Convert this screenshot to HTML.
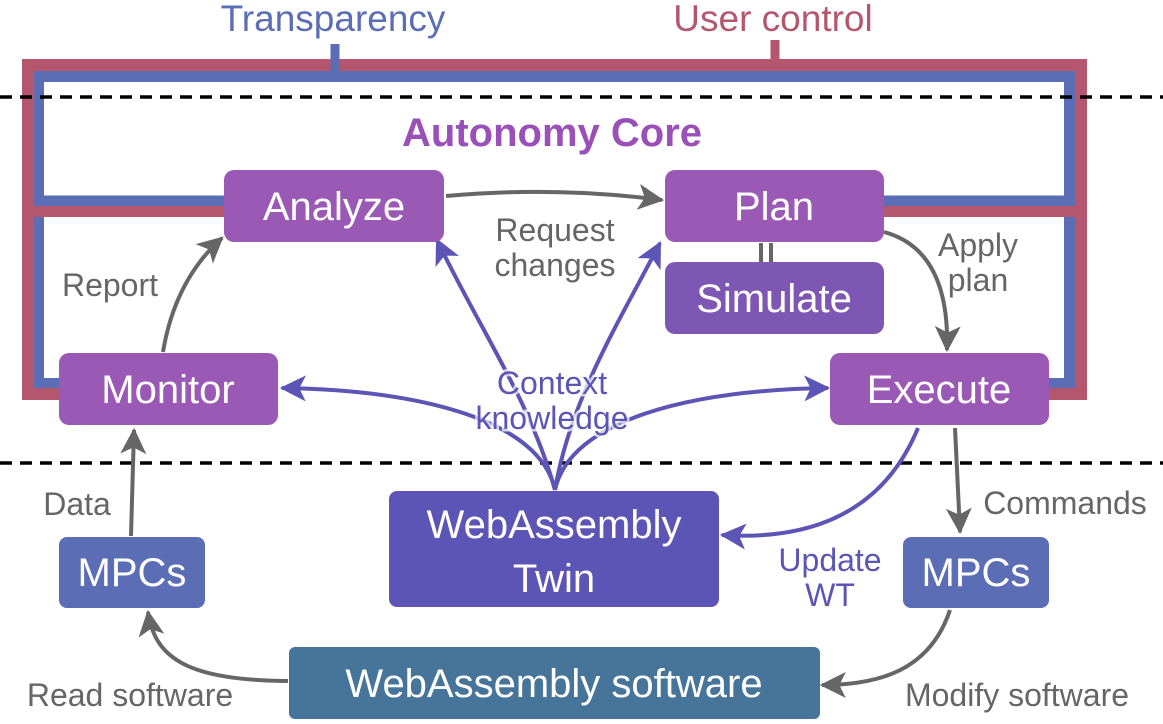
<!DOCTYPE html>
<html><head><meta charset="utf-8"><style>
html,body{margin:0;padding:0;background:#fff;}
svg{display:block;font-family:"Liberation Sans",sans-serif;}
</style></head><body>
<svg width="1163" height="724" viewBox="0 0 1163 724" xmlns="http://www.w3.org/2000/svg">
<defs>
<marker id="g" viewBox="0 0 12 12" refX="11" refY="6" markerWidth="26" markerHeight="26" orient="auto" markerUnits="userSpaceOnUse"><path d="M0,0 L12,6 L0,12 L3,6 z" fill="#666"/></marker>
<marker id="p" viewBox="0 0 12 12" refX="11" refY="6" markerWidth="26" markerHeight="26" orient="auto" markerUnits="userSpaceOnUse"><path d="M0,0 L12,6 L0,12 L3,6 z" fill="#5c55b5"/></marker>
</defs>
<!-- frames -->
<g fill="none" stroke-linejoin="miter">
<!-- blue -->
<path d="M230,201 H38.5 V76.5 H1069.5 V201 H880" stroke="#5a6db5" stroke-width="11"/>
<path d="M38.5,206 V383.5 H70" stroke="#5a6db5" stroke-width="11"/>
<path d="M1069.5,206 V383.5 H1040" stroke="#5a6db5" stroke-width="11"/>
<!-- red -->
<path d="M70,394 H28 V65 H1081 V394 H1040" stroke="#b5566f" stroke-width="12"/>
<line x1="33" y1="211.5" x2="230" y2="211.5" stroke="#b5566f" stroke-width="11"/>
<line x1="880" y1="211.5" x2="1075" y2="211.5" stroke="#b5566f" stroke-width="11"/>
</g>
<line x1="335" y1="44" x2="335" y2="71" stroke="#5a6db5" stroke-width="9"/>
<line x1="775" y1="40" x2="775" y2="59" stroke="#b5566f" stroke-width="9"/>
<line x1="0" y1="97" x2="1163" y2="97" stroke="#000" stroke-width="3.5" stroke-dasharray="12,8"/>
<line x1="0" y1="463" x2="1163" y2="463" stroke="#000" stroke-width="3.5" stroke-dasharray="12,8"/>
<text x="333" y="31" font-size="37" fill="#5a6db5" text-anchor="middle">Transparency</text>
<text x="773" y="31" font-size="37" fill="#b5566f" text-anchor="middle">User control</text>
<text x="552" y="146" font-size="40" font-weight="bold" fill="#9b4fb8" text-anchor="middle">Autonomy Core</text>
<!-- connectors gray -->
<g fill="none" stroke="#666" stroke-width="4">
<path d="M163,352 Q175,280 222,238" marker-end="url(#g)"/>
<path d="M446,196 Q555,186 662,200" marker-end="url(#g)"/>
<path d="M884,232 Q950,250 947,350" marker-end="url(#g)"/>
<path d="M955,428 L960,532" marker-end="url(#g)"/>
<path d="M131,536 L134,430" marker-end="url(#g)"/>
<path d="M288,681 C190,680 155,660 148,612" marker-end="url(#g)"/>
<path d="M950,610 C930,670 880,685 822,685" marker-end="url(#g)"/>
<line x1="761" y1="243" x2="761" y2="262"/><line x1="771" y1="243" x2="771" y2="262"/>
</g>
<!-- connectors purple -->
<g fill="none" stroke="#5c55b5" stroke-width="4">
<path d="M555,490 C540,420 420,390 282,388" marker-end="url(#p)"/>
<path d="M555,490 C570,420 690,390 828,388" marker-end="url(#p)"/>
<path d="M555,490 C530,400 480,330 437,240" marker-end="url(#p)"/>
<path d="M555,490 C570,400 620,320 660,243" marker-end="url(#p)"/>
<path d="M918,428 C880,520 800,540 722,535" marker-end="url(#p)"/>
</g>
<!-- boxes -->
<g font-size="40" fill="#fff" text-anchor="middle">
<rect x="224" y="170" width="220" height="72" rx="10" fill="#9b59b6"/><text x="334" y="220" fill="#fff">Analyze</text>
<rect x="665" y="170" width="219" height="72" rx="10" fill="#9b59b6"/><text x="774" y="220" fill="#fff">Plan</text>
<rect x="665" y="262" width="219" height="72" rx="10" fill="#7e57b5"/><text x="774" y="312" fill="#fff">Simulate</text>
<rect x="59" y="353" width="219" height="72" rx="10" fill="#9b59b6"/><text x="168" y="403" fill="#fff">Monitor</text>
<rect x="830" y="353" width="219" height="72" rx="10" fill="#9b59b6"/><text x="939" y="403" fill="#fff">Execute</text>
<rect x="389" y="491" width="330" height="116" rx="8" fill="#5c55b5"/><text x="554" y="538" fill="#fff">WebAssembly</text><text x="554" y="592" fill="#fff">Twin</text>
<rect x="59" y="537" width="146" height="71" rx="8" fill="#5a6db5"/><text x="132" y="586" fill="#fff">MPCs</text>
<rect x="903" y="537" width="146" height="71" rx="8" fill="#5a6db5"/><text x="976" y="586" fill="#fff">MPCs</text>
<rect x="289" y="647" width="531" height="72" rx="6" fill="#467599"/><text x="554" y="697" fill="#fff">WebAssembly software</text>
</g>
<!-- labels -->
<g font-size="32" fill="#666">
<text x="555" y="241" text-anchor="middle">Request</text>
<text x="555" y="276" text-anchor="middle">changes</text>
<text x="978" y="256" text-anchor="middle">Apply</text>
<text x="978" y="291" text-anchor="middle">plan</text>
<text x="110" y="296" text-anchor="middle">Report</text>
<text x="77" y="515" text-anchor="middle">Data</text>
<text x="1065" y="514" text-anchor="middle">Commands</text>
<text x="130" y="706" text-anchor="middle">Read software</text>
<text x="1017" y="706" text-anchor="middle">Modify software</text>
</g>
<g font-size="32" fill="#5c55b5" text-anchor="middle">
<text x="552" y="394" stroke="#fff" stroke-width="5" stroke-opacity="0.7" paint-order="stroke">Context</text>
<text x="552" y="429" stroke="#fff" stroke-width="5" stroke-opacity="0.7" paint-order="stroke">knowledge</text>
<text x="830" y="571">Update</text>
<text x="830" y="606">WT</text>
</g>
</svg>
</body></html>
